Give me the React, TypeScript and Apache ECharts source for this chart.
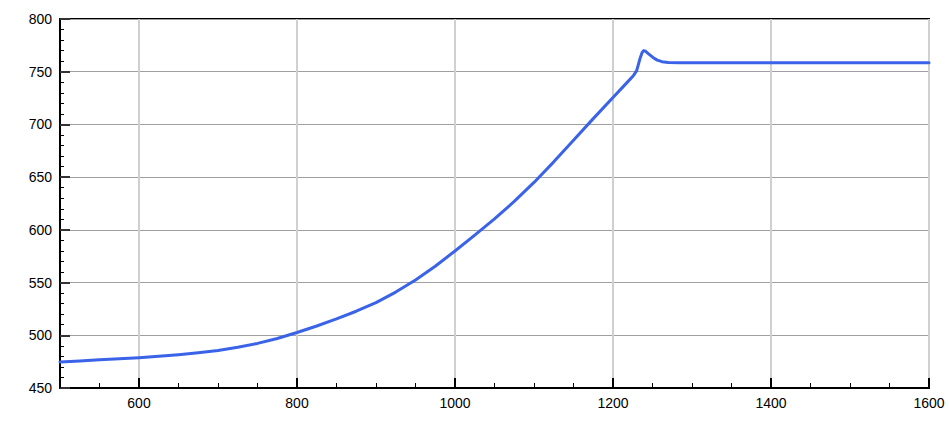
import React, { useEffect, useRef } from "react";
import * as echarts from "echarts";

const xValues = [500, 525, 550, 575, 600, 625, 650, 675, 700, 725, 750, 775, 800, 825, 850, 875, 900, 925, 950, 975, 1000, 1025, 1050, 1075, 1100, 1125, 1150, 1175, 1200, 1215, 1226, 1230, 1234, 1237, 1239, 1241, 1245, 1251, 1256, 1262, 1270, 1285, 1320, 1600];
const yValues = [474.7, 475.7, 476.8, 477.8, 478.8, 480.1, 481.6, 483.4, 485.6, 488.6, 492.3, 497, 502.6, 508.8, 515.5, 522.8, 531, 541, 552.5, 565.5, 580, 595, 610.5, 627, 645, 664.5, 685, 705.5, 725.5, 737.5, 746.5, 751, 762, 768.5, 770, 769.5, 767, 763.3, 761, 759.5, 758.8, 758.6, 758.5, 758.5];
const xMajorTicks = [600, 800, 1000, 1200, 1400, 1600];

const FONT = "'Liberation Sans', Arial, Helvetica, sans-serif";

export default function App() {
  const ref = useRef<HTMLDivElement>(null);
  useEffect(() => {
    if (!ref.current) return;
    const chart = echarts.init(ref.current, undefined, { renderer: "svg" });
    const data = xValues.map((x, i) => [x, yValues[i]]);
    const gridPos = { left: 60, right: 20, top: 19, bottom: 40 };
    chart.setOption({
      animation: false,
      backgroundColor: "#fff",
      grid: [
        { ...gridPos, show: true, borderColor: "#000", borderWidth: 2, backgroundColor: "transparent" },
        { ...gridPos, show: false },
      ],
      xAxis: [
        {
          type: "value",
          gridIndex: 0,
          min: 500,
          max: 1600,
          interval: 50,
          axisLine: { show: true, lineStyle: { color: "#000", width: 2 } },
          axisTick: { show: true, inside: true, length: 5, lineStyle: { color: "#000", width: 1 } },
          axisLabel: {
            show: true,
            customValues: xMajorTicks,
            formatter: (v: number) => String(v),
            color: "#000",
            fontSize: 14,
            fontFamily: FONT,
            margin: 8,
          },
          splitLine: { show: false },
        },
        {
          type: "value",
          gridIndex: 1,
          min: 500,
          max: 1600,
          axisLine: { show: false },
          axisTick: {
            show: true,
            inside: true,
            length: 10,
            customValues: xMajorTicks,
            lineStyle: { color: "#000", width: 2 },
          },
          axisLabel: { show: false },
          splitLine: { show: true, lineStyle: { color: "#d0d0d0", width: 2 } },
        },
      ],
      yAxis: [
        {
          type: "value",
          gridIndex: 0,
          min: 450,
          max: 800,
          interval: 50,
          axisLine: { show: true, lineStyle: { color: "#000", width: 2 } },
          axisTick: { show: true, inside: true, length: 10, lineStyle: { color: "#333", width: 2 } },
          minorTick: { show: true, splitNumber: 5, length: 4, lineStyle: { color: "#000", width: 1 } },
          axisLabel: {
            color: "#000",
            fontSize: 14,
            fontFamily: FONT,
            margin: 8,
            formatter: (v: number) => String(v),
          },
          splitLine: { show: true, lineStyle: { color: "#a0a0a0", width: 1 } },
        },
        {
          type: "value",
          gridIndex: 1,
          min: 450,
          max: 800,
          show: false,
          splitLine: { show: false },
        },
      ],
      series: [
        {
          type: "line",
          xAxisIndex: 0,
          yAxisIndex: 0,
          data,
          smooth: false,
          showSymbol: false,
          symbol: "none",
          lineStyle: { color: "#3a63e8", width: 3, join: "round", cap: "round" },
          z: 5,
        },
      ],
    });
    return () => chart.dispose();
  }, []);
  return (
    <div
      ref={ref}
      style={{ position: "fixed", left: 0, top: 0, width: 949, height: 428 }}
    />
  );
}
